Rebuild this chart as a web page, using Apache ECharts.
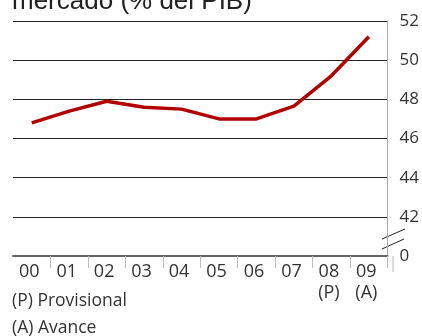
<!DOCTYPE html>
<html><head><meta charset="utf-8">
<script src="https://cdn.jsdelivr.net/npm/echarts@6/dist/echarts.min.js"></script>
<style>html,body{margin:0;padding:0;background:#fff}#c{width:422px;height:336px}</style>
</head><body><div id="c"></div>
<script>
var categories = ['00','01','02','03','04','05','06','07','08\n(P)','09\n(A)'];
var values = [46.8, 47.4, 47.9, 47.6, 47.5, 47.0, 47.0, 47.65, 49.2, 51.2];
var yTicks = [40, 42, 44, 46, 48, 50, 52];
var titleText = 'mercado (% del PIB)';
var notes = ['(P) Provisional', '(A) Avance'];

var FONT = '"Open Sans", sans-serif';
var chart = echarts.init(document.getElementById('c'), null, {renderer:'canvas'});
chart.setOption({
  animation: false,
  grid: {left: 13, right: 29, top: 21, bottom: 80, containLabel: false},
  xAxis: {
    type: 'category', data: categories, boundaryGap: true,
    axisLine: {show: true, lineStyle: {color: '#666', width: 2}},
    axisTick: {show: true, length: 12, interval: function(i){ return i > 0; }, lineStyle: {color: '#bbb', width: 1}},
    axisLabel: {color: '#333', fontSize: 18, fontFamily: FONT, margin: 5, lineHeight: 21, interval: 0, padding: [0, 5, 0, 0]}
  },
  yAxis: {
    type: 'value', position: 'right', min: yTicks[0], max: yTicks[yTicks.length-1], interval: 2,
    axisLine: {show: true, lineStyle: {color: '#aaa', width: 1}},
    axisTick: {show: false},
    splitLine: {show: true, lineStyle: {color: '#222', width: 1}},
    axisLabel: {color: '#333', fontSize: 17, fontFamily: FONT, margin: 12,
      formatter: function(v){ return v === yTicks[0] ? '0' : String(v); }}
  },
  series: [{
    type: 'line', data: values, symbol: 'none', smooth: false,
    lineStyle: {color: '#b00000', width: 3.5}
  }],
  graphic: [
    {type: 'text', left: 12, top: -11, style: {text: titleText, fontSize: 26, fontFamily: '"Liberation Sans", Arial, sans-serif', fill: '#222'}},
    {type: 'text', left: 12, top: 292, style: {text: notes[0], fontSize: 17.5, fontFamily: FONT, fill: '#333'}},
    {type: 'text', left: 12, top: 319, style: {text: notes[1], fontSize: 17.5, fontFamily: FONT, fill: '#333'}},
    {type: 'line', shape: {x1: 393, y1: 256, x2: 393, y2: 272}, style: {stroke: '#bbb', lineWidth: 1}},
    {type: 'line', shape: {x1: 382, y1: 239, x2: 405, y2: 229}, style: {stroke: '#222', lineWidth: 1}},
    {type: 'line', shape: {x1: 382, y1: 249, x2: 404, y2: 239}, style: {stroke: '#222', lineWidth: 1}}
  ]
});
</script></body></html>
